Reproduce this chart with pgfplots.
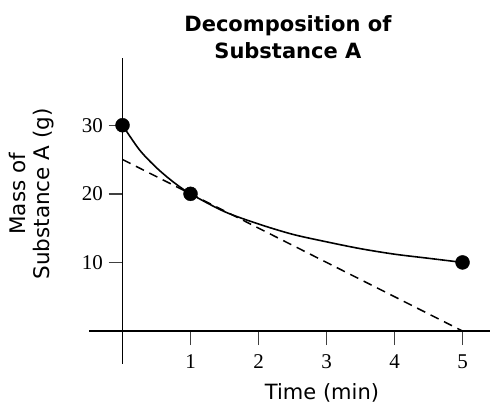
\documentclass[border=0pt]{standalone}
\usepackage{fontspec}
\setmainfont{DejaVu Sans}
\newfontfamily\numfont{Liberation Serif}
\usepackage{pgfplots}
\pgfplotsset{compat=1.18}
\begin{document}
\begin{tikzpicture}[x=1pt,y=1pt]
\useasboundingbox (0,0) rectangle (490,404);
\begin{axis}[
  at={(89pt,40pt)}, anchor=south west,
  scale only axis,
  width=401pt, height=306pt,
  axis lines=middle,
  axis line style={-, line width=1.6pt},
  xmin=-0.493, xmax=5.404,
  ymin=-4.81, ymax=39.8,
  xtick={1,2,3,4,5},
  ytick={10,20,30},
  tick align=outside,
  major tick length=14pt,
  tick style={line width=1.4pt, black!75},
  /pgf/number format/assume math mode=true,
  tick label style={font=\numfont\fontsize{21}{25}\selectfont},
  xticklabel style={anchor=north, yshift=-6pt},
  yticklabel style={anchor=east, xshift=-2pt},
  title={Decomposition of\\Substance A},
  title style={at={(axis description cs:0.496,1.048)}, anchor=center,
    align=center, font=\bfseries\fontsize{21}{27.5}\selectfont},
  xlabel={Time (min)},
  xlabel style={at={(axis description cs:0.581,-0.094)}, anchor=center,
    font=\fontsize{21}{25}\selectfont},
  ylabel={Mass of\\Substance A (g)},
  ylabel style={at={(axis description cs:-0.142,0.556)}, anchor=center,
    rotate=90, align=center, font=\fontsize{21.5}{24}\selectfont},
  clip=false,
]
% tangent at t = 1
\addplot[black, line width=1.5pt, dash pattern=on 9pt off 6pt] coordinates {(0,25) (5,0)};
% measured decay curve
\addplot[black, line width=1.6pt, smooth] coordinates {
  (0,30) (0.25,26.4) (0.5,23.8) (0.75,21.7) (1,20) (1.5,17.4) (2,15.6)
  (2.5,14.1) (3,13.0) (3.5,12.0) (4,11.2) (4.5,10.6) (5,10)
};
\addplot[only marks, mark=*, mark size=7pt, black] coordinates {(0,30) (1,20) (5,10)};
\end{axis}
\end{tikzpicture}
\end{document}
